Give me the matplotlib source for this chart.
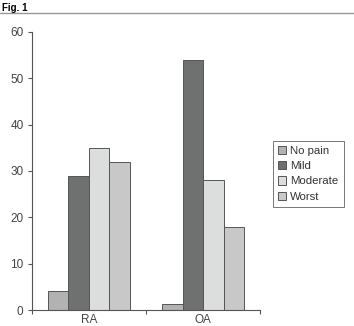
import matplotlib
matplotlib.use('Agg')
import matplotlib.pyplot as plt
import numpy as np

groups = ['RA', 'OA']
series = ['No pain', 'Mild', 'Moderate', 'Worst']
no_pain = [4, 1.3]
mild = [29, 54]
moderate = [35, 28]
worst = [32, 18]
colors = ['#b2b2b2', '#6f7070', '#dcdddd', '#c8c8c8']

plt.rcParams['font.family'] = ['Liberation Sans', 'DejaVu Sans']

fig = plt.figure(figsize=(3.54, 3.26), dpi=100)
fig.text(0.005, 0.99, 'Fig. 1', fontsize=7, fontweight='bold', va='top', ha='left')
fig.add_artist(plt.Line2D([0, 1], [0.96, 0.96], color='#999999', lw=1.0))

ax = fig.add_axes([0.090, 0.049, 0.645, 0.853])
x = np.arange(len(groups))
w = 0.18
for i, (name, vals) in enumerate(zip(series, [no_pain, mild, moderate, worst])):
    ax.bar(x + (i - 1.5) * w, vals, w, color=colors[i], edgecolor='#555555',
           linewidth=0.7, label=name)

ax.set_xlim(-0.5, 1.5)
ax.set_ylim(0, 60)
ax.set_yticks(range(0, 61, 10))
ax.set_xticks([-0.5, 0.5, 1.5])
ax.set_xticklabels([])
ax.set_xticks(x, minor=True)
ax.set_xticklabels(groups, minor=True)
ax.tick_params(axis='x', which='minor', length=0, labelsize=8.5, pad=3, colors='#444444')
ax.tick_params(axis='x', which='major', length=3, color='#555555')
ax.tick_params(axis='y', length=3, labelsize=8.5, labelcolor='#444444', color='#555555', pad=3)
ax.spines['top'].set_visible(False)
ax.spines['right'].set_visible(False)
for s in ['left', 'bottom']:
    ax.spines[s].set_color('#555555')
    ax.spines[s].set_linewidth(0.8)

leg = ax.legend(loc='center left', bbox_to_anchor=(1.055, 0.49), fontsize=8.2,
                frameon=True, fancybox=False, edgecolor='#555555',
                handlelength=0.75, handleheight=0.75, handletextpad=0.35,
                borderpad=0.45, labelspacing=0.45, borderaxespad=0)
leg.get_frame().set_linewidth(0.7)
for t in leg.get_texts():
    t.set_color('#333333')

fig.savefig('out.png', dpi=100)
